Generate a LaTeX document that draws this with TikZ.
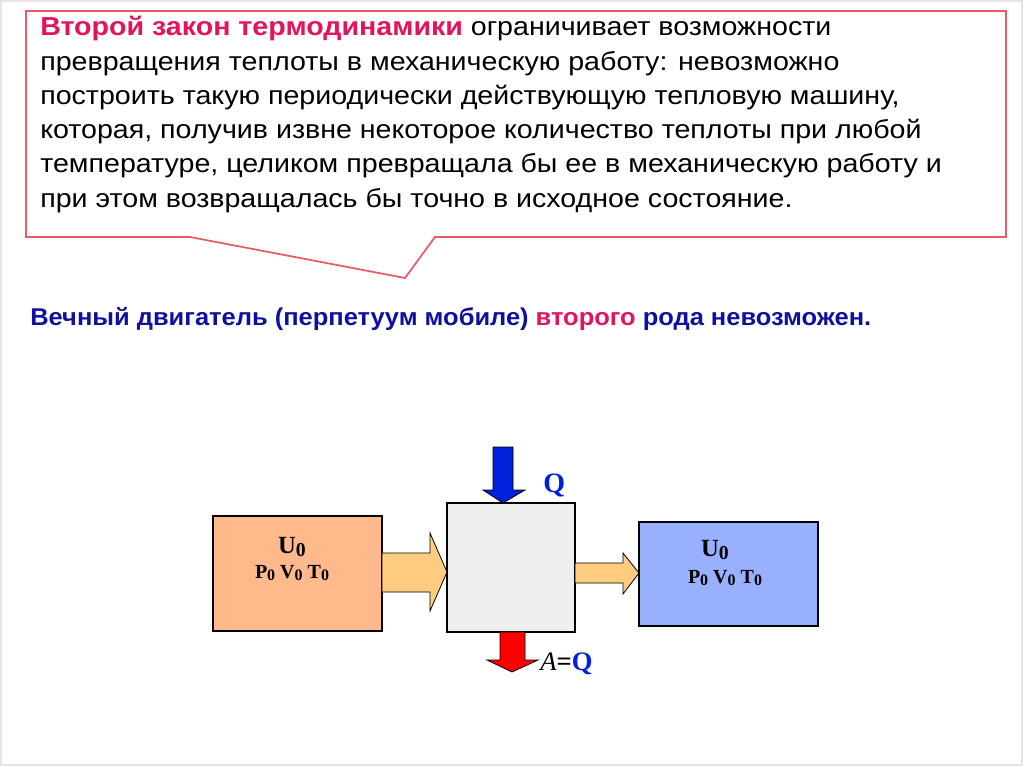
\documentclass[tikz,border=0pt]{standalone}
\usepackage{fontspec}
\setmainfont{Liberation Sans}
\newfontfamily\widesans[FakeStretch=1.1]{Liberation Sans}
\newfontfamily\widesansb[FakeStretch=1.05]{Liberation Sans}
\newfontfamily\tnr{Liberation Serif}
\definecolor{pinkc}{RGB}{228,20,92}
\definecolor{bluec}{RGB}{16,16,160}
\definecolor{callc}{RGB}{232,90,100}
\definecolor{orangebox}{RGB}{255,185,138}
\definecolor{arrowor}{RGB}{255,204,128}
\definecolor{graybox}{RGB}{239,239,239}
\definecolor{bluebox}{RGB}{153,176,255}
\definecolor{qblue}{RGB}{0,32,220}
\newcommand\subz[1]{\raisebox{-0.3ex}{\scalebox{0.8}{#1}}}
\tikzset{
  line/.style={anchor=base west, inner sep=0pt, font=\widesans\fontsize{19.5}{22}\selectfont},
  boxstyle/.style={draw=black, line width=1.2pt},
  arrowshape/.style={draw=black, line width=0.6pt},
  lbl/.style={inner sep=0pt, font=\tnr\bfseries\fontsize{18.5}{20}\selectfont},
  sublbl/.style={inner sep=0pt, font=\tnr\bfseries\fontsize{15}{17}\selectfont},
}
\begin{document}
\begin{tikzpicture}[x=0.75pt,y=-0.75pt]
\useasboundingbox (0,0) rectangle (1024,767);
\fill[white] (0,0) rectangle (1024,767);
\draw[gray!20, line width=0.8pt] (1,1) rectangle (1022,765);
% callout
\draw[callc, line width=1.3pt, fill=white] (26,11) -- (1006,11) -- (1006,237) -- (435,237) -- (405,278) -- (190,237) -- (26,237) -- cycle;
\node[line] (l1) at (40,36) {{\color{pinkc}\bfseries Второй закон термодинамики} ограничивает возможности};
\node[line] (l2) at (40,70.2) {превращения теплоты в механическую работу: невозможно};
\node[line] (l3) at (40,104.4) {построить такую периодически действующую тепловую машину,};
\node[line] (l4) at (40,138.6) {которая, получив извне некоторое количество теплоты при любой};
\node[line] (l5) at (40,172.8) {температуре, целиком превращала бы ее в механическую работу и};
\node[line] (l6) at (40,207) {при этом возвращалась бы точно в исходное состояние.};
% statement
\node[anchor=base west, inner sep=0pt, font=\widesansb\bfseries\fontsize{18.2}{20}\selectfont, text=bluec] (st) at (30,325)
  {Вечный двигатель (перпетуум мобиле) {\color{pinkc}второго} рода невозможен.};
% boxes
\draw[boxstyle, fill=orangebox] (213,516) rectangle (382,631);
\draw[boxstyle, fill=graybox] (447,503) rectangle (575,632);
\draw[boxstyle, fill=bluebox] (639,522) rectangle (818,626);
% arrows
\draw[arrowshape, fill=arrowor] (382,553) -- (430,553) -- (430,533) -- (447,572) -- (430,611) -- (430,592) -- (382,592) -- cycle;
\draw[arrowshape, fill=arrowor] (575,563) -- (623,563) -- (623,553) -- (639,573) -- (623,594) -- (623,583) -- (575,583) -- cycle;
\draw[arrowshape, fill=qblue] (493,447) -- (513,447) -- (513,490) -- (525,490) -- (503,503) -- (483,490) -- (493,490) -- cycle;
\draw[arrowshape, fill=red] (500,632) -- (525,632) -- (525,660) -- (538,660) -- (512,672) -- (487,660) -- (500,660) -- cycle;
% labels
\node[lbl, anchor=base] (u1) at (292,553) {U\subz{0}};
\node[sublbl, anchor=base] (p1) at (292,578) {P\subz{0} V\subz{0} T\subz{0}};
\node[lbl, anchor=base] (u2) at (715,556) {U\subz{0}};
\node[sublbl, anchor=base] (p2) at (725,583) {P\subz{0} V\subz{0} T\subz{0}};
\node[anchor=base west, inner sep=0pt, font=\tnr\bfseries\fontsize{21}{23}\selectfont, text=qblue] (q) at (543,492) {Q};
\node[anchor=base west, inner sep=0pt, font=\tnr\fontsize{20}{22}\selectfont] (aq) at (540,670) {\textit{A}\textbf{=}{\bfseries\color{qblue}Q}};
\end{tikzpicture}
\end{document}
